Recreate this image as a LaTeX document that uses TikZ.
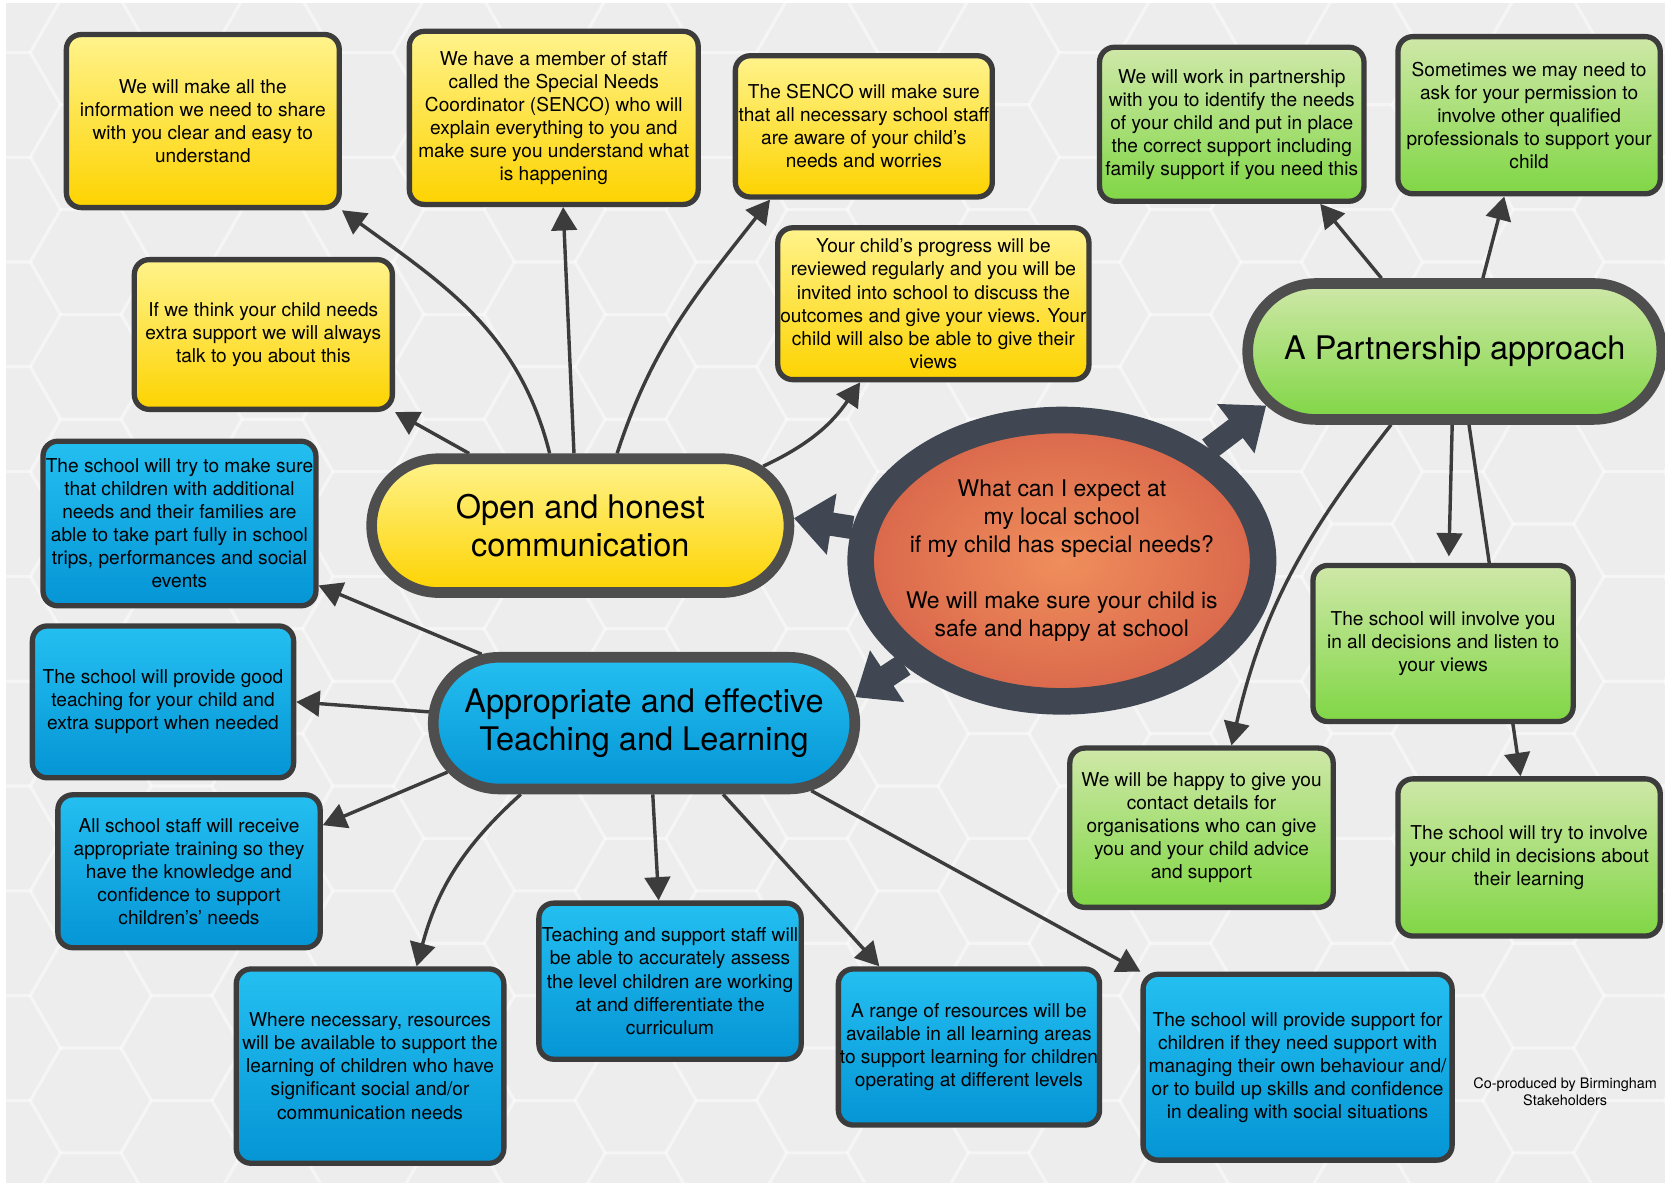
\documentclass[tikz,border=0pt]{standalone}
\usepackage{fontspec}
\setmainfont{TeX Gyre Heros}
\usepackage{xcolor}
\usepackage{tikz}
\usetikzlibrary{shapes.geometric,shapes.misc,arrows.meta,positioning,backgrounds,shadows}

\definecolor{bggray}{HTML}{EDEDED}
\definecolor{edgegray}{HTML}{3C3C3C}
\definecolor{maingray}{HTML}{4E4E4E}
\definecolor{hubring}{HTML}{404752}
\definecolor{yeltop}{HTML}{FFF38C}
\definecolor{yelbot}{HTML}{FDD300}
\definecolor{bluetop}{HTML}{24BFF1}
\definecolor{bluebot}{HTML}{0595D5}
\definecolor{greentop}{HTML}{CFE8A8}
\definecolor{greenbot}{HTML}{80D645}
\definecolor{hubin}{HTML}{F08E5C}
\definecolor{hubout}{HTML}{D9674B}

\begin{document}
\begin{tikzpicture}[x=0.5pt, y=0.5pt,
    card/.style={rectangle, rounded corners=7pt, draw=edgegray, line width=2.5pt, align=center, inner sep=0pt, font=\fontsize{9}{10.85}\selectfont, drop shadow={opacity=0.25, shadow xshift=0.8pt, shadow yshift=-0.8pt}},
    ycard/.style={card, top color=yeltop, bottom color=yelbot},
    bcard/.style={card, top color=bluetop, bottom color=bluebot},
    gcard/.style={card, top color=greentop, bottom color=greenbot},
    topic/.style={rounded rectangle, draw=maingray, line width=5pt, align=center, inner sep=0pt, font=\fontsize{15.3}{18}\selectfont, drop shadow={opacity=0.3, shadow xshift=1pt, shadow yshift=-1pt}},
    spoke/.style={-{Triangle[length=11pt,width=12pt]}, line width=1.6pt, draw=edgegray},
    wedge/.style={-{Triangle[length=18pt,width=28pt]}, line width=11pt, draw=hubring},
    hexline/.style={draw=white, draw opacity=0.3, line width=1.5pt}
]
    \useasboundingbox (0,0) rectangle (1568,-1114);

    % Centre
    \node[ellipse, draw=hubring, line width=12.5pt, inner color=hubin, outer color=hubout, minimum width=189.5pt, minimum height=132.5pt, inner sep=0pt, drop shadow={opacity=0.35, shadow xshift=1pt, shadow yshift=-1pt}] (hub) at (1000,-528) {};
    \node[align=center, font=\fontsize{10.8}{13.1}\selectfont] (hubtext) at (hub.center)
        {What can I expect at\\my local school\\if my child has special needs?\\[13.1pt]We will make sure your child is\\safe and happy at school};

    % Themes
    \node[topic, top color=yeltop, bottom color=yelbot, minimum width=196.5pt, minimum height=63pt] (open) at (546.5,-495) {Open and honest\\communication};
    \node[topic, top color=bluetop, bottom color=bluebot, minimum width=198.5pt, minimum height=62pt] (teach) at (606.5,-681) {Appropriate and effective\\Teaching and Learning};
    \node[topic, top color=greentop, bottom color=greenbot, minimum width=195pt, minimum height=64pt] (part) at (1370,-331) {A Partnership approach};

    % Open and honest communication
    \node[ycard, minimum width=128.5pt, minimum height=81.5pt] (y1) at (191,-114) {We will make all the\\information we need to share\\with you clear and easy to\\understand};
    \node[ycard, minimum width=136pt, minimum height=81.5pt] (y2) at (521.5,-111) {We have a member of staff\\called the Special Needs\\Coordinator (SENCO) who will\\explain everything to you and\\make sure you understand what\\is happening};
    \node[ycard, minimum width=121pt, minimum height=66.5pt] (y3) at (813.5,-119) {The SENCO will make sure\\that all necessary school staff\\are aware of your child’s\\needs and worries};
    \node[ycard, minimum width=121.5pt, minimum height=70.5pt] (y4) at (248,-315) {If we think your child needs\\extra support we will always\\talk to you about this};
    \node[ycard, minimum width=146.5pt, minimum height=71.5pt] (y5) at (879,-286) {Your child’s progress will be\\reviewed regularly and you will be\\invited into school to discuss the\\outcomes and give your views. Your\\child will also be able to give their\\views};

    % Teaching and Learning
    \node[bcard, minimum width=128.5pt, minimum height=77.5pt] (b1) at (169,-493) {The school will try to make sure\\that children with additional\\needs and their families are\\able to take part fully in school\\trips, performances and social\\events};
    \node[bcard, minimum width=123pt, minimum height=71.5pt] (b2) at (153.5,-661) {The school will provide good\\teaching for your child and\\extra support when needed};
    \node[bcard, minimum width=123.5pt, minimum height=72pt] (b3) at (178,-820.5) {All school staff will receive\\appropriate training so they\\have the knowledge and\\confidence to support\\children’s’ needs};
    \node[bcard, minimum width=126pt, minimum height=91.5pt] (b4) at (348.5,-1004) {Where necessary, resources\\will be available to support the\\learning of children who have\\significant social and/or\\communication needs};
    \node[bcard, minimum width=123.5pt, minimum height=73.5pt] (b5) at (631,-924) {Teaching and support staff will\\be able to accurately assess\\the level children are working\\at and differentiate the\\curriculum};
    \node[bcard, minimum width=123pt, minimum height=73.5pt] (b6) at (912.5,-986) {A range of resources will be\\available in all learning areas\\to support learning for children\\operating at different levels};
    \node[bcard, minimum width=145.5pt, minimum height=87.5pt] (b7) at (1222,-1005) {The school will provide support for\\children if they need support with\\managing their own behaviour and/\\or to build up skills and confidence\\in dealing with social situations};

    % Partnership
    \node[gcard, minimum width=124.5pt, minimum height=72.5pt] (g1) at (1160,-117) {We will work in partnership\\with you to identify the needs\\of your child and put in place\\the correct support including\\family support if you need this};
    \node[gcard, minimum width=123.5pt, minimum height=74pt] (g2) at (1440,-108.5) {Sometimes we may need to\\ask for your permission to\\involve other qualified\\professionals to support your\\child};
    \node[gcard, minimum width=122.5pt, minimum height=73.5pt] (g3) at (1359,-606) {The school will involve you\\in all decisions and listen to\\your views};
    \node[gcard, minimum width=124pt, minimum height=75pt] (g4) at (1131.5,-779.5) {We will be happy to give you\\contact details for\\organisations who can give\\you and your child advice\\and support};
    \node[gcard, minimum width=123.5pt, minimum height=74pt] (g5) at (1440,-807.5) {The school will try to involve\\your child in decisions about\\their learning};

    \node[align=center, font=\fontsize{6.8}{8}\selectfont] (credit) at (1474,-1028) {Co-produced by Birmingham\\Stakeholders};

    \begin{scope}[on background layer]
        \fill[bggray] (6,-3) rectangle (1568,-1114);
        % faint hexagon paper
        \begin{scope}
            \clip (6,-3) rectangle (1568,-1114);
            \foreach \i in {0,...,19} {
                \foreach \j in {0,...,12} {
                    \pgfmathsetmacro{\hx}{\i*85.5}
                    \pgfmathsetmacro{\hy}{-\j*98.7-mod(\i,2)*49.35}
                    \draw[hexline] (\hx,\hy) +(0:57) -- +(60:57) -- +(120:57) -- +(180:57) -- +(240:57) -- +(300:57) -- cycle;
                }
            }
        \end{scope}

        % Centre to themes
        \draw[wedge] (hub) -- (open.2);
        \draw[wedge] (hub) -- (teach.7);
        \draw[wedge] (hub) -- (part.196);

        % Arrows: Open and honest communication
        \draw[spoke] (open.147) -- (y4.south east);
        \draw[spoke] (open.113) to[out=104, in=-36] (y1.south east);
        \draw[spoke] (open.95) -- (y2.276);
        \draw[spoke] (open.63) to[out=72, in=232] (y3.218);
        \draw[spoke] (open.18) to[out=25, in=236] (y5.227);

        % Arrows: Teaching and Learning
        \draw[spoke] (teach.157) -- (b1.-24);
        \draw[spoke] (teach.177) -- (b2.east);
        \draw[spoke] (teach.194) -- (b3.19);
        \draw[spoke] (teach.210) to[out=222, in=75] (b4.65);
        \draw[spoke] (teach.277) -- (b5.98);
        \draw[spoke] (teach.318) -- (b6.138);
        \draw[spoke] (teach.338) -- (b7.north west);

        % Arrows: Partnership
        \draw[spoke] (part.135) -- (g1.318);
        \draw[spoke] (part.69) -- (g2.253);
        \draw[spoke, shorten >=3pt] (part.268) -- (g3.86);
        \draw[spoke] (part.229) to[out=232, in=77] (g4.70);
        \draw[spoke] (part.281) -- (g5.96);
    \end{scope}
\end{tikzpicture}
\end{document}
